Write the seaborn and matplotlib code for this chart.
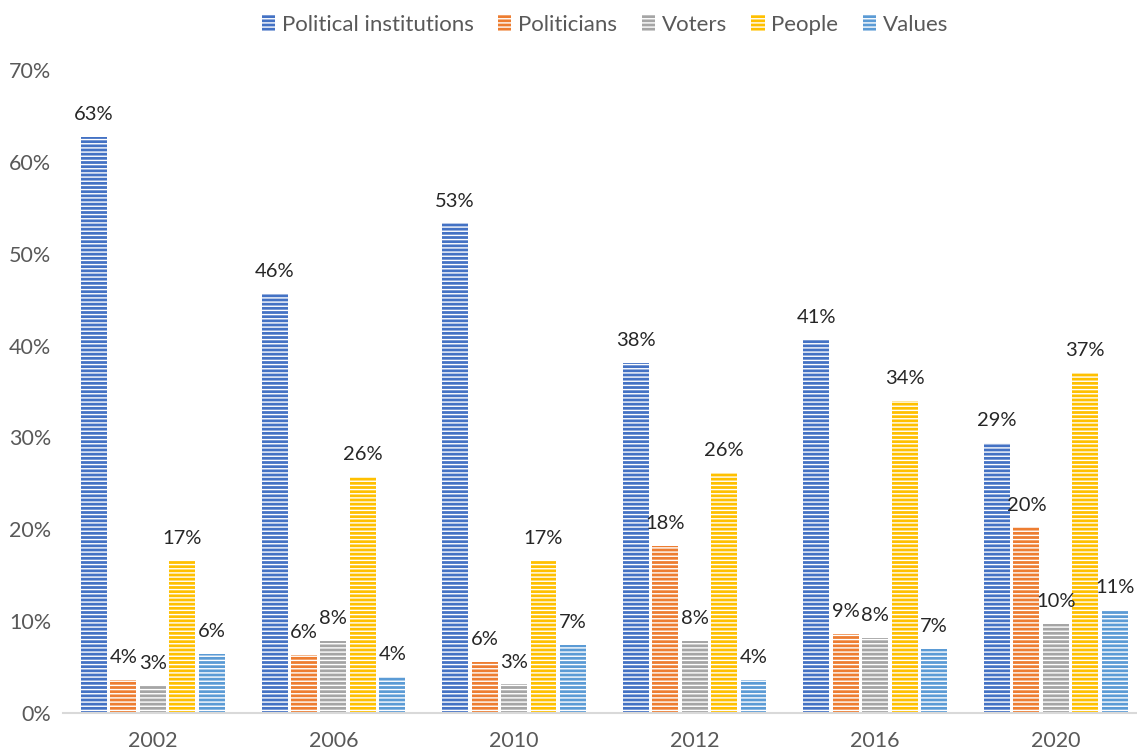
import pandas as pd
import numpy as np
import matplotlib
matplotlib.use("Agg")
import matplotlib.pyplot as plt
import seaborn as sns
from matplotlib.ticker import PercentFormatter

years = ["2002", "2006", "2010", "2012", "2016", "2020"]
categories = ["Political institutions", "Politicians", "Voters", "People", "Values"]
political_institutions = [62.7, 45.6, 53.3, 38.1, 40.6, 29.4]
politicians = [3.6, 6.3, 5.6, 18.2, 8.6, 20.2]
voters = [2.9, 7.8, 3.1, 7.8, 8.2, 9.7]
people = [16.6, 25.7, 16.6, 26.1, 34.0, 37.0]
values = [6.4, 3.9, 7.4, 3.6, 7.0, 11.2]

colors = ["#4472C4", "#ED7D31", "#A5A5A5", "#FFC000", "#5B9BD5"]

series = [political_institutions, politicians, voters, people, values]
df = pd.DataFrame(
    [(y, c, v) for c, vals in zip(categories, series) for y, v in zip(years, vals)],
    columns=["year", "category", "pct"],
)

sns.set_style("white")
plt.rcParams['font.family'] = ['Lato', 'DejaVu Sans']
plt.rcParams['hatch.linewidth'] = 1.0

fig = plt.figure(figsize=(11.37, 7.52), dpi=100)
ax = fig.add_axes([0.055, 0.0519, 0.953, 0.855])

sns.barplot(data=df, x="year", y="pct", hue="category", hue_order=categories,
            palette=colors, width=0.815, gap=0.12, saturation=1, ax=ax,
            legend=False)

for cont in ax.containers:
    for bar in cont:
        bar.set_hatch("----")
        bar.set_edgecolor("white")
        bar.set_linewidth(0)
    ax.bar_label(cont, labels=[f"{v:.0f}%" for v in cont.datavalues],
                 padding=10, fontsize=14.5, color="#262626")

ax.set_ylim(0, 70)
ax.set_yticks(np.arange(0, 71, 10))
ax.yaxis.set_major_formatter(PercentFormatter(decimals=0))
ax.set_xlim(-0.5, 5.5)
ax.set_xlabel("")
ax.set_ylabel("")
ax.tick_params(axis="both", length=0, labelsize=15.5, colors="#595959")
ax.tick_params(axis="x", pad=13)
ax.tick_params(axis="y", pad=8)
for s in ["left", "right", "top"]:
    ax.spines[s].set_visible(False)
ax.spines["bottom"].set_color("#D9D9D9")
ax.spines["bottom"].set_linewidth(1.5)

handles = [cont.patches[0] for cont in ax.containers]
fig.legend(handles, categories, loc="upper center", bbox_to_anchor=(0.532, 1.007),
           ncol=5, frameon=False, fontsize=16, labelcolor="#595959",
           handlelength=0.6, handleheight=0.7, handletextpad=0.3, columnspacing=1.1)

fig.savefig("out.png", dpi=100)
